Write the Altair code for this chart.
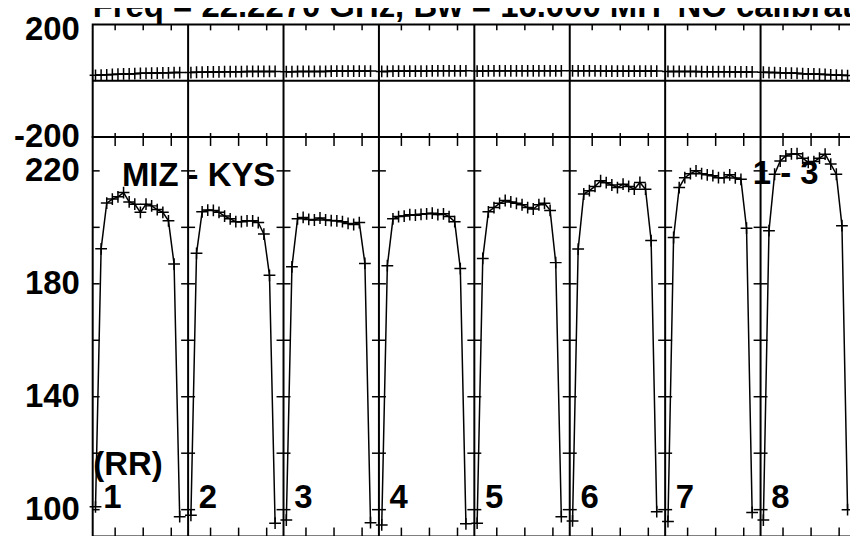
import altair as alt
import pandas as pd

# ---------------- data ----------------
if_names = ["1", "2", "3", "4", "5", "6", "7", "8"]
channels = list(range(1, 17))
slots_per_if = 17

amp_if1 = [101.0, 192.4, 208.6, 210.0, 210.8, 212.3, 209.0, 208.2, 205.3, 208.2, 207.6, 206.3, 205.3, 202.3, 187.0, 97.5]
amp_if2 = [98.0, 190.8, 205.5, 206.1, 206.0, 205.3, 204.0, 203.0, 202.0, 202.0, 202.3, 202.3, 201.7, 197.6, 183.0, 95.2]
amp_if3 = [96.3, 186.0, 203.0, 203.5, 202.8, 202.6, 203.3, 202.6, 202.4, 202.3, 202.0, 201.4, 201.0, 201.7, 187.2, 95.4]
amp_if4 = [94.6, 186.4, 203.0, 203.8, 204.0, 204.5, 204.3, 204.6, 204.8, 205.0, 204.5, 204.8, 203.8, 202.0, 185.4, 95.0]
amp_if5 = [95.2, 189.0, 205.5, 207.0, 208.5, 209.5, 209.0, 208.5, 208.0, 207.0, 206.5, 208.0, 208.5, 206.0, 187.5, 97.5]
amp_if6 = [96.0, 192.3, 211.8, 213.0, 214.5, 216.5, 215.8, 215.0, 214.1, 215.3, 214.5, 213.5, 215.9, 213.5, 195.3, 99.3]
amp_if7 = [95.8, 196.4, 214.1, 217.6, 219.0, 220.0, 219.0, 218.6, 218.3, 217.6, 217.6, 218.6, 217.5, 217.0, 199.7, 99.0]
amp_if8 = [96.3, 198.8, 218.8, 223.5, 225.3, 226.0, 226.1, 224.5, 223.0, 223.3, 224.5, 225.9, 222.4, 218.8, 200.6, 100.0]
amps = [amp_if1, amp_if2, amp_if3, amp_if4, amp_if5, amp_if6, amp_if7, amp_if8]

ph_if1 = [19, 20, 21, 22, 23, 24, 24, 25, 26, 26, 27, 27, 28, 28, 29, 29]
ph_if2 = [29, 30, 30, 31, 31, 31, 32, 32, 32, 32, 33, 33, 33, 33, 33, 33]
ph_if3 = [32, 32, 33, 33, 33, 33, 33, 33, 34, 34, 34, 34, 34, 34, 34, 34]
ph_if4 = [33, 33, 34, 34, 34, 34, 34, 34, 34, 35, 35, 35, 35, 35, 35, 35]
ph_if5 = [34, 34, 35, 35, 35, 35, 35, 35, 35, 35, 35, 35, 35, 35, 35, 35]
ph_if6 = [35, 35, 35, 35, 35, 35, 34, 34, 34, 34, 34, 34, 34, 34, 34, 34]
ph_if7 = [33, 33, 33, 33, 33, 33, 32, 32, 32, 32, 32, 32, 31, 31, 31, 31]
ph_if8 = [30, 29, 29, 28, 27, 27, 26, 25, 24, 24, 23, 22, 21, 20, 19, 18]
phases = [ph_if1, ph_if2, ph_if3, ph_if4, ph_if5, ph_if6, ph_if7, ph_if8]

title_text = "Freq = 22.2270 GHz, Bw = 16.000 MH\u2019 NO calibration applied"
ann_text = ["MIZ - KYS", "(RR)", "1 - 3"]
ann_x = [5.2, 0.1, 117.6]
ann_y = [214.7, 112.4, 215.3]
if_label_offset = 1.9
if_label_y = 100.6

phase_ticks = [-200, 200]
amp_label_ticks = [100, 140, 180, 220]
amp_minor_ticks = [100, 120, 140, 160, 180, 200, 220]
x_tick_offsets = [4, 9, 14]

# ---------------- tables ----------------
rows = []
for i, name in enumerate(if_names):
    for c in channels:
        rows.append({"IF": name, "slot": i * slots_per_if + c - 0.5,
                     "amp": amps[i][c - 1], "phase": phases[i][c - 1]})
df = pd.DataFrame(rows)

n_slots = len(if_names) * slots_per_if
bounds_df = pd.DataFrame({"b": [k * slots_per_if for k in range(1, len(if_names))]})
xt_df = pd.DataFrame({"t": [i * slots_per_if + o for i in range(len(if_names)) for o in x_tick_offsets]})
edge_ticks_df = pd.DataFrame({"v": amp_minor_ticks})
cross_df = pd.DataFrame([{"b": k * slots_per_if, "v": v}
                         for k in range(1, len(if_names)) for v in amp_minor_ticks])
ann_df = pd.DataFrame({"t": ann_text, "x": ann_x, "y": ann_y})
iflab_df = pd.DataFrame({"t": if_names,
                         "x": [i * slots_per_if + if_label_offset for i in range(len(if_names))],
                         "y": [if_label_y] * len(if_names)})
zero_df = pd.DataFrame({"z": [0]})
title_df = pd.DataFrame({"t": [title_text]})

# ---------------- styling ----------------
FONT = "Liberation Sans"
FS = 33
W = 766
H_TOP = 113
H_BOT = 401
BLACK = "black"
CROSS = "M-1,0H1M0,-1V1"

xscale = alt.Scale(domain=[0, n_slots], nice=False, zero=False)


def xe(field):
    return alt.X(f"{field}:Q", scale=xscale, axis=None)


def make_yaxis(values, top_label_shift=0):
    kw = dict(values=values, title=None, grid=False, ticks=False, tickSize=0,
              domain=False, labelFont=FONT, labelFontSize=FS, labelFontWeight="bold",
              labelColor=BLACK, labelPadding=13.5, labelOverlap=False, labelFlush=False,
              labelExpr="'' + datum.value")
    if top_label_shift:
        kw["labelOffset"] = {"condition": {"test": "datum.value > 0", "value": top_label_shift},
                             "value": 0}
    return alt.Axis(**kw)


pscale = alt.Scale(domain=[-200, 200], nice=False, zero=False)
paxis = make_yaxis(phase_ticks, top_label_shift=5)
ascale = alt.Scale(domain=[90.47, 232.0], nice=False, zero=False)
aaxis = make_yaxis(amp_label_ticks)


def ype(field):
    return alt.Y(f"{field}:Q", scale=pscale, axis=paxis)


def yam(field):
    return alt.Y(f"{field}:Q", scale=ascale, axis=aaxis)


# ---------------- top panel (phase) ----------------
p_line = alt.Chart(df).mark_line(color=BLACK, strokeWidth=1.5).encode(
    x=xe("slot"), y=ype("phase"), detail="IF:N", order="slot:Q")
p_pts = alt.Chart(df).mark_point(shape=CROSS, size=140, filled=False, stroke=BLACK,
                                 strokeWidth=1.5, opacity=1).encode(x=xe("slot"), y=ype("phase"))
p_zero = alt.Chart(zero_df).mark_rule(color=BLACK, strokeWidth=2).encode(y=ype("z"))
p_bnd = alt.Chart(bounds_df).mark_rule(color=BLACK, strokeWidth=2).encode(x=xe("b"))
p_tt = alt.Chart(xt_df).mark_rule(color=BLACK, strokeWidth=1.5).encode(
    x=xe("t"), y=alt.value(0), y2=alt.value(6))
p_tb = alt.Chart(xt_df).mark_rule(color=BLACK, strokeWidth=1.5).encode(
    x=xe("t"), y=alt.value(H_TOP - 4), y2=alt.value(H_TOP))
p_title = alt.Chart(title_df).mark_text(align="left", baseline="alphabetic", font=FONT,
                                        fontSize=FS, fontWeight="bold", color=BLACK,
                                        limit=W, ellipsis="\u200b").encode(
    x=alt.value(0), y=alt.value(-7), text="t:N")

top = alt.layer(p_zero, p_bnd, p_tt, p_tb, p_line, p_pts, p_title).properties(width=W, height=H_TOP)

# ---------------- bottom panel (amplitude) ----------------
a_line = alt.Chart(df).mark_line(color=BLACK, strokeWidth=1.5).encode(
    x=xe("slot"), y=yam("amp"), detail="IF:N", order="slot:Q")
a_pts = alt.Chart(df).mark_point(shape=CROSS, size=140, filled=False, stroke=BLACK,
                                 strokeWidth=1.5, opacity=1).encode(x=xe("slot"), y=yam("amp"))
a_bnd = alt.Chart(bounds_df).mark_rule(color=BLACK, strokeWidth=2).encode(x=xe("b"))
a_cross = alt.Chart(cross_df).mark_tick(orient="horizontal", size=14, thickness=1.5,
                                        color=BLACK, opacity=1).encode(x=xe("b"), y=yam("v"))
a_edge = alt.Chart(edge_ticks_df).mark_rule(color=BLACK, strokeWidth=1.5).encode(
    x=alt.value(0), x2=alt.value(7), y=yam("v"))
a_tt = alt.Chart(xt_df).mark_rule(color=BLACK, strokeWidth=1.5).encode(
    x=xe("t"), y=alt.value(0), y2=alt.value(9))
a_tb = alt.Chart(xt_df).mark_rule(color=BLACK, strokeWidth=1.5).encode(
    x=xe("t"), y=alt.value(H_BOT - 9), y2=alt.value(H_BOT))
a_ann = alt.Chart(ann_df).mark_text(align="left", baseline="alphabetic", font=FONT,
                                    fontSize=FS, fontWeight="bold", color=BLACK).encode(
    x=xe("x"), y=yam("y"), text="t:N")
a_iflab = alt.Chart(iflab_df).mark_text(align="left", baseline="alphabetic", font=FONT,
                                        fontSize=FS, fontWeight="bold", color=BLACK).encode(
    x=xe("x"), y=yam("y"), text="t:N")

bottom = alt.layer(a_bnd, a_cross, a_edge, a_tt, a_tb, a_line, a_pts, a_ann, a_iflab).properties(
    width=W, height=H_BOT)

chart = alt.vconcat(top, bottom, spacing=0, bounds="flush").properties(
    padding={"left": 4, "top": -18.5, "right": -8, "bottom": 0},
    background="white",
).configure_view(stroke=BLACK, strokeWidth=2)

chart.save("out.html", embed_options={"renderer": "svg", "actions": False})
